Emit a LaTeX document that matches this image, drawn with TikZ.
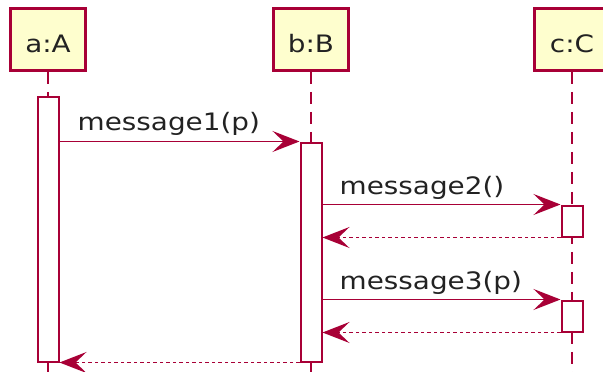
\documentclass[tikz,border=0pt]{standalone}
\usepackage{fontspec}
\setmainfont{DejaVu Sans}[FakeStretch=1.16]
\usetikzlibrary{arrows.meta,positioning,backgrounds}
\definecolor{umlred}{HTML}{A80036}
\definecolor{umlfill}{HTML}{FEFECE}
\definecolor{umltext}{HTML}{222222}

\begin{document}
\begin{tikzpicture}[x=1pt,y=-1pt,
        part/.style={draw=umlred, fill=umlfill, line width=2.5pt, minimum width=75pt, minimum height=62pt,
            text height=25pt, text depth=0pt, text=umltext, font=\fontsize{24}{28}\selectfont},
        act/.style={draw=umlred, fill=white, line width=2pt, minimum width=21pt, inner sep=0pt},
        life/.style={umlred, line width=1.8pt, dash pattern=on 12pt off 8pt},
        msg/.style={umlred, line width=1.8pt, -{Stealth[length=27pt,width=21pt,inset=11pt]}},
        ret/.style={msg, dash pattern=on 3.5pt off 3pt},
        lbl/.style={anchor=base west, inner sep=0pt, text=umltext, font=\fontsize{24}{28}\selectfont}]
        \path[use as bounding box, clip] (0,0) rectangle (603,372);

        % participants
        \node[part] (a) at (48,39.5) {a:A};
        \node[part] (b) at (311,39.5) {b:B};
        \node[part] (c) at (572,39.5) {c:C};

        % activations
        \node[act, minimum height=265pt] (actA) at (48,229) {};
        \node[act, minimum height=219pt] (actB) at (311,252) {};
        \node[act, minimum height=31pt] (actC1) at (572,221) {};
        \node[act, minimum height=31pt] (actC2) at (572,316) {};

        % lifelines
        \coordinate (endA) at (48,372);
        \coordinate (endB) at (311,372);
        \coordinate (endC) at (572,372);
        \begin{scope}[on background layer]
            \draw[life] (a.south) -- (actA.north);
            \draw[life] (actA.south) -- (endA);
            \draw[life] (b.south) -- (actB.north);
            \draw[life] (actB.south) -- (endB);
            \draw[life] (c.south) -- (endC);
        \end{scope}

        % calls and returns
        \draw[msg] (actA.east |- actB.north) -- (actB.north west);
        \path (actA.east |- actB.north) ++(18,-11) node[lbl] (m1) {message1(p)};

        \draw[msg] (actB.east |- actC1.north) -- (actC1.north west);
        \path (actB.east |- actC1.north) ++(17,-10) node[lbl] (m2) {message2()};
        \draw[ret] (actC1.south west) -- (actB.east |- actC1.south);

        \draw[msg] (actB.east |- actC2.north) -- (actC2.north west);
        \path (actB.east |- actC2.north) ++(17,-10) node[lbl] (m3) {message3(p)};
        \draw[ret] (actC2.south west) -- (actB.east |- actC2.south);

        \draw[ret] (actB.south west) -- (actA.south east);
    \end{tikzpicture}
\end{document}
